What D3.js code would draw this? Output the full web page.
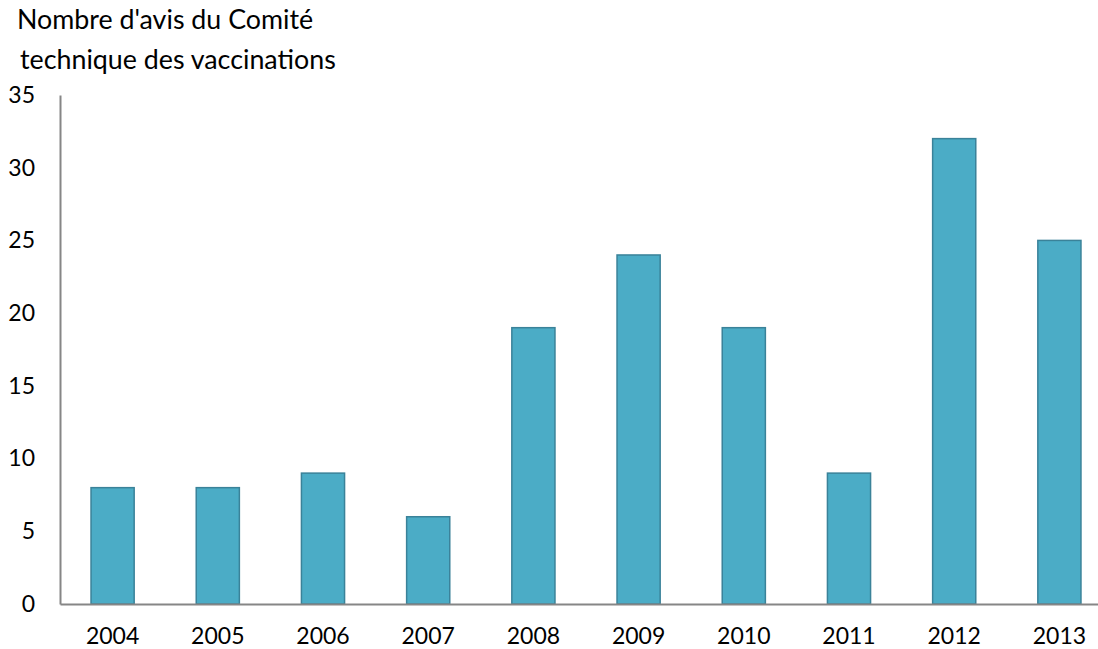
<!DOCTYPE html>
<html>
<head>
<meta charset="utf-8">
<script src="https://cdn.jsdelivr.net/npm/d3@7"></script>
<style>
  body { margin: 0; background: #fff; }
  text { font-family: Lato, "Open Sans", sans-serif; fill: #000; }
</style>
</head>
<body>
<div id="chart"></div>
<script>
// data
var years = ['2004', '2005', '2006', '2007', '2008', '2009', '2010', '2011', '2012', '2013'];
var avis = [8, 8, 9, 6, 19, 24, 19, 9, 32, 25];
var yTicks = [0, 5, 10, 15, 20, 25, 30, 35];
var titleLines = ["Nombre d'avis du Comité", "technique des vaccinations"];

var svgWidth = 1098, svgHeight = 649;
var margin = { top: 95, right: -14, bottom: 45, left: 60 };
var width = svgWidth - margin.left - margin.right;
var height = svgHeight - margin.top - margin.bottom;

var svg = d3.select('#chart').append('svg')
  .attr('width', svgWidth)
  .attr('height', svgHeight);

var chart = svg.append('g')
  .attr('transform', `translate(${margin.left}, ${margin.top})`);

// scales
var x = d3.scaleBand().domain(years).range([0, width]).paddingInner(0.59).paddingOuter(0.295);
var y = d3.scaleLinear().domain([0, 35]).range([height, 0]);

// bars
chart.selectAll('rect')
  .data(avis)
  .enter()
  .append('rect')
  .attr('x', (d, i) => x(years[i]))
  .attr('y', d => y(d))
  .attr('width', x.bandwidth())
  .attr('height', d => y(0) - y(d))
  .attr('fill', '#4bacc6')
  .attr('stroke', '#3a8299')
  .attr('stroke-width', 1.5);

// axes
var leftAxis = d3.axisLeft(y).tickValues(yTicks).tickSize(0).tickPadding(25);
var bottomAxis = d3.axisBottom(x).tickSize(0).tickPadding(24);

var gy = chart.append('g').call(leftAxis);
var gx = chart.append('g').attr('transform', `translate(0, ${height})`).call(bottomAxis);

[gx, gy].forEach(function (g) {
  g.select('.domain').attr('stroke', '#868686').attr('stroke-width', 2);
  g.selectAll('text').style('font-size', '23px').style('font-family', 'Lato, sans-serif');
});

// axis title, two lines
svg.append('text')
  .style('font-size', '26.8px')
  .selectAll('tspan')
  .data(titleLines)
  .enter()
  .append('tspan')
  .attr('x', (d, i) => i === 0 ? 17 : 20)
  .attr('y', (d, i) => 29 + i * 40)
  .text(d => d);
</script>
</body>
</html>
